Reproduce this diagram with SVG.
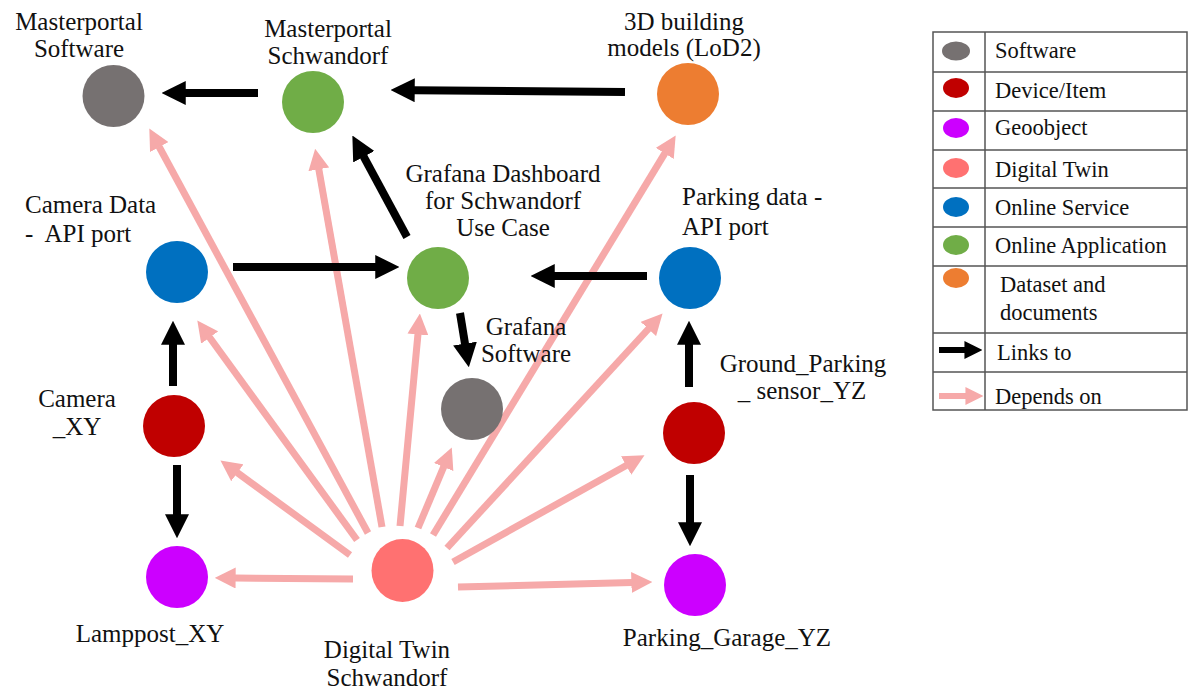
<svg xmlns="http://www.w3.org/2000/svg" width="1188" height="692" viewBox="0 0 1188 692">
<style>
.lbl{font-family:"Liberation Serif","Times New Roman",serif;font-size:25px;fill:#111}
.leg{font-family:"Liberation Serif","Times New Roman",serif;font-size:22.5px;fill:#111}
.mid{text-anchor:middle}
.blk{stroke:#000;stroke-width:8;fill:none;marker-end:url(#hb)}
.pnk{stroke:#F6A9A9;stroke-width:7;fill:none;marker-end:url(#hp)}
.grid{stroke:#555;stroke-width:1.5;fill:none}
</style>
<defs>
<marker id="hb" viewBox="0 0 10 10" refX="0.3" refY="5" markerWidth="3" markerHeight="3" orient="auto" markerUnits="strokeWidth"><path d="M0,0 L10,5 L0,10 z" fill="#000"/></marker>
<marker id="hp" viewBox="0 0 10 10" refX="0.3" refY="5" markerWidth="3" markerHeight="3" orient="auto" markerUnits="strokeWidth"><path d="M0,0 L10,5 L0,10 z" fill="#F6A9A9"/></marker>
</defs>
<rect width="1188" height="692" fill="#fff"/>

<g id="connectors">
<line class="pnk" x1="353" y1="579" x2="235" y2="578"/>
<line class="pnk" x1="350" y1="555" x2="236.9" y2="472.4"/>
<line class="pnk" x1="357" y1="540" x2="209.3" y2="337"/>
<line class="pnk" x1="368" y1="533" x2="159" y2="146.5"/>
<line class="pnk" x1="382" y1="527" x2="318.7" y2="168.7"/>
<line class="pnk" x1="400" y1="526" x2="418" y2="333.9"/>
<line class="pnk" x1="418" y1="528" x2="443.9" y2="466.4"/>
<line class="pnk" x1="433" y1="535" x2="665.1" y2="152.9"/>
<line class="pnk" x1="447" y1="548" x2="648.8" y2="328.5"/>
<line class="pnk" x1="453" y1="562" x2="626.7" y2="465.2"/>
<line class="pnk" x1="458" y1="587" x2="632" y2="582.5"/>

<line class="blk" x1="258" y1="93" x2="185" y2="93"/>
<line class="blk" x1="625" y1="92" x2="414" y2="90.2"/>
<line class="blk" x1="407" y1="237" x2="363.4" y2="156.1"/>
<line class="blk" x1="233" y1="267" x2="376" y2="267"/>
<line class="blk" x1="647" y1="276" x2="554" y2="276"/>
<line class="blk" x1="460" y1="313" x2="465.1" y2="344.3"/>
<line class="blk" x1="173" y1="386" x2="173" y2="344"/>
<line class="blk" x1="177" y1="465" x2="177" y2="515"/>
<line class="blk" x1="689" y1="387" x2="689" y2="344"/>
<line class="blk" x1="690" y1="475" x2="690" y2="523"/>
</g>

<g id="mp-software">
<circle cx="113.5" cy="96" r="31" fill="#767171"/>
<text class="lbl mid" x="79" y="30">Masterportal</text>
<text class="lbl mid" x="79" y="57">Software</text>
</g>
<g id="mp-schwandorf">
<circle cx="313" cy="102" r="31" fill="#70AD47"/>
<text class="lbl mid" x="328" y="37">Masterportal</text>
<text class="lbl mid" x="328" y="64">Schwandorf</text>
</g>
<g id="building-models">
<circle cx="688" cy="94" r="31" fill="#ED7D31"/>
<text class="lbl mid" x="684" y="30">3D building</text>
<text class="lbl mid" x="684" y="56">models (LoD2)</text>
</g>
<g id="camera-data">
<circle cx="177" cy="272" r="31" fill="#0070C0"/>
<text class="lbl" x="25" y="213">Camera Data</text>
<text class="lbl" x="25" y="242" xml:space="preserve">-  API port</text>
</g>
<g id="grafana-dashboard">
<circle cx="438" cy="278" r="31" fill="#70AD47"/>
<text class="lbl mid" x="503" y="182">Grafana Dashboard</text>
<text class="lbl mid" x="503" y="209">for Schwandorf</text>
<text class="lbl mid" x="503" y="236">Use Case</text>
</g>
<g id="parking-data">
<circle cx="690" cy="278" r="31" fill="#0070C0"/>
<text class="lbl" x="682" y="205">Parking data -</text>
<text class="lbl" x="682" y="235">API port</text>
</g>
<g id="grafana-software">
<circle cx="472" cy="409" r="31" fill="#767171"/>
<text class="lbl mid" x="526" y="335">Grafana</text>
<text class="lbl mid" x="526" y="362">Software</text>
</g>
<g id="camera-xy">
<circle cx="174" cy="426" r="31" fill="#C00000"/>
<text class="lbl mid" x="77" y="407">Camera</text>
<text class="lbl mid" x="77" y="435">_XY</text>
</g>
<g id="ground-sensor">
<circle cx="694" cy="433" r="31" fill="#C00000"/>
<text class="lbl mid" x="803" y="372">Ground_Parking</text>
<text class="lbl mid" x="802" y="399">_ sensor_YZ</text>
</g>
<g id="lamppost">
<circle cx="177" cy="577" r="31" fill="#CC00FF"/>
<text class="lbl mid" x="150" y="642">Lamppost_XY</text>
</g>
<g id="digital-twin">
<ellipse cx="402.5" cy="570.5" rx="31" ry="31.5" fill="#FF7171"/>
<text class="lbl mid" x="387" y="658">Digital Twin</text>
<text class="lbl mid" x="387" y="686">Schwandorf</text>
</g>
<g id="parking-garage">
<circle cx="695" cy="585" r="31" fill="#CC00FF"/>
<text class="lbl mid" x="727" y="646">Parking_Garage_YZ</text>
</g>

<g id="legend">
<rect class="grid" x="933" y="32" width="254" height="378"/>
<line class="grid" x1="985" y1="32" x2="985" y2="410"/>
<line class="grid" x1="933" y1="72" x2="1187" y2="72"/>
<line class="grid" x1="933" y1="111" x2="1187" y2="111"/>
<line class="grid" x1="933" y1="150" x2="1187" y2="150"/>
<line class="grid" x1="933" y1="188" x2="1187" y2="188"/>
<line class="grid" x1="933" y1="227" x2="1187" y2="227"/>
<line class="grid" x1="933" y1="266" x2="1187" y2="266"/>
<line class="grid" x1="933" y1="333" x2="1187" y2="333"/>
<line class="grid" x1="933" y1="372" x2="1187" y2="372"/>
<ellipse cx="956" cy="51" rx="14" ry="9.5" fill="#767171"/>
<ellipse cx="956" cy="88" rx="13" ry="10" fill="#C00000"/>
<ellipse cx="956" cy="128" rx="13" ry="10" fill="#CC00FF"/>
<ellipse cx="956" cy="168" rx="13" ry="10" fill="#FF7171"/>
<ellipse cx="956" cy="207" rx="13" ry="10" fill="#0070C0"/>
<ellipse cx="956" cy="245" rx="13" ry="10" fill="#70AD47"/>
<ellipse cx="956" cy="278" rx="13" ry="10" fill="#ED7D31"/>
<line x1="939" y1="350" x2="965" y2="350" stroke="#000" stroke-width="6" marker-end="url(#hb)"/>
<line x1="939" y1="396" x2="966" y2="396" stroke="#F6A9A9" stroke-width="6" marker-end="url(#hp)"/>
<text class="leg" x="995" y="58">Software</text>
<text class="leg" x="995" y="98">Device/Item</text>
<text class="leg" x="995" y="135">Geoobject</text>
<text class="leg" x="995" y="177">Digital Twin</text>
<text class="leg" x="995" y="215">Online Service</text>
<text class="leg" x="995" y="253">Online Application</text>
<text class="leg" x="1000" y="292">Dataset and</text>
<text class="leg" x="1000" y="320">documents</text>
<text class="leg" x="997" y="360">Links to</text>
<text class="leg" x="995" y="404">Depends on</text>
</g>
</svg>
